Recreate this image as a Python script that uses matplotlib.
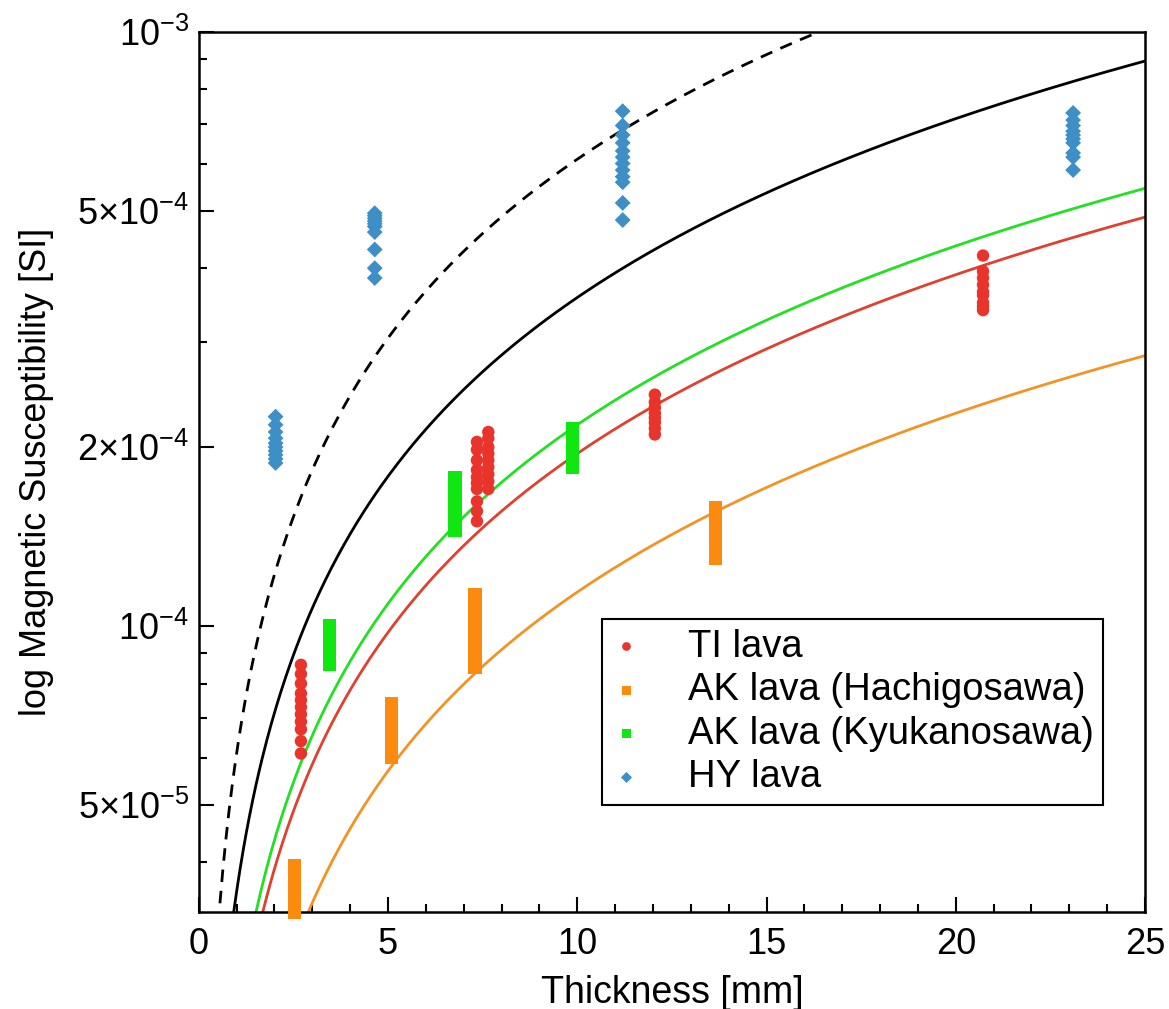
import numpy as np
import matplotlib
matplotlib.use("Agg")
import matplotlib.pyplot as plt
from matplotlib.ticker import FixedLocator, FixedFormatter

plt.rcParams['font.family'] = ['Liberation Sans', 'DejaVu Sans']
plt.rcParams['mathtext.fontset'] = 'custom'
plt.rcParams['mathtext.rm'] = 'Liberation Sans'
plt.rcParams['mathtext.it'] = 'Liberation Sans:italic'
plt.rcParams['mathtext.bf'] = 'Liberation Sans:bold'

# ---------------- data ----------------
ti_x = [2.7] * 11 + [7.35] * 10 + [7.65] * 9 + [12.05] * 8 + [20.72] * 9
ti_y = [8.6e-5, 8.3e-5, 8.0e-5, 7.7e-5, 7.5e-5, 7.3e-5, 7.1e-5, 6.9e-5, 6.7e-5, 6.4e-5, 6.1e-5,
        2.04e-4, 1.98e-4, 1.90e-4, 1.83e-4, 1.78e-4, 1.74e-4, 1.70e-4, 1.62e-4, 1.56e-4, 1.50e-4,
        2.12e-4, 2.07e-4, 2.00e-4, 1.95e-4, 1.90e-4, 1.85e-4, 1.80e-4, 1.75e-4, 1.70e-4,
        2.45e-4, 2.38e-4, 2.33e-4, 2.28e-4, 2.24e-4, 2.20e-4, 2.15e-4, 2.10e-4,
        4.20e-4, 3.95e-4, 3.85e-4, 3.75e-4, 3.65e-4, 3.60e-4, 3.50e-4, 3.45e-4, 3.40e-4]

hachi_x = [2.54] * 6 + [5.1] * 7 + [7.3] * 8 + [13.66] * 7
hachi_y = [3.95e-5, 3.8e-5, 3.65e-5, 3.5e-5, 3.4e-5, 3.3e-5,
           7.4e-5, 7.1e-5, 6.8e-5, 6.6e-5, 6.4e-5, 6.2e-5, 6.0e-5,
           1.13e-4, 1.08e-4, 1.04e-4, 1.00e-4, 0.96e-4, 0.92e-4, 0.88e-4, 0.85e-4,
           1.58e-4, 1.52e-4, 1.47e-4, 1.42e-4, 1.38e-4, 1.34e-4, 1.30e-4]

kyu_x = [3.46] * 6 + [6.77] * 7 + [9.88] * 7
kyu_y = [1.0e-4, 0.97e-4, 0.94e-4, 0.91e-4, 0.88e-4, 0.86e-4,
         1.78e-4, 1.72e-4, 1.66e-4, 1.60e-4, 1.55e-4, 1.50e-4, 1.45e-4,
         2.15e-4, 2.10e-4, 2.05e-4, 2.00e-4, 1.95e-4, 1.90e-4, 1.85e-4]

hy_x = [2.03] * 10 + [4.65] * 10 + [11.2] * 12 + [23.1] * 10
hy_y = [2.25e-4, 2.18e-4, 2.12e-4, 2.07e-4, 2.03e-4, 2.00e-4, 1.97e-4, 1.94e-4, 1.91e-4, 1.88e-4,
        4.95e-4, 4.90e-4, 4.85e-4, 4.80e-4, 4.75e-4, 4.70e-4, 4.60e-4, 4.30e-4, 4.00e-4, 3.85e-4,
        7.35e-4, 6.95e-4, 6.70e-4, 6.50e-4, 6.30e-4, 6.15e-4, 6.00e-4, 5.85e-4, 5.70e-4, 5.58e-4, 5.15e-4, 4.82e-4,
        7.30e-4, 7.10e-4, 6.95e-4, 6.80e-4, 6.70e-4, 6.60e-4, 6.50e-4, 6.25e-4, 6.15e-4, 5.85e-4]

# model lines y = k * thickness
fit_names = ['upper', 'mean', 'kyukanosawa', 'ti', 'hachigosawa']
fit_slopes = [6.1e-5, 3.57e-5, 2.18e-5, 1.95e-5, 1.14e-5]

labels = ['TI lava', 'AK lava (Hachigosawa)', 'AK lava (Kyukanosawa)', 'HY lava']
xtick_vals = [0, 5, 10, 15, 20, 25]
ytick_vals = [5e-5, 1e-4, 2e-4, 5e-4, 1e-3]
ytick_labels = [r'$5{\times}10^{-5}$', r'$10^{-4}$', r'$2{\times}10^{-4}$',
                r'$5{\times}10^{-4}$', r'$10^{-3}$']

# ---------------- styles ----------------
c_red = '#e8342b'
c_orange = '#fb8b0f'
c_green = '#10e610'
c_blue = '#3d8fc6'
line_styles = {
    'upper': dict(color='black', ls=(0, (4.5, 3.2)), lw=2.0),
    'mean': dict(color='black', ls='-', lw=2.0),
    'kyukanosawa': dict(color='#22e022', ls='-', lw=2.0),
    'ti': dict(color='#e0402f', ls='-', lw=2.0),
    'hachigosawa': dict(color='#f29424', ls='-', lw=2.0),
}

fig = plt.figure(figsize=(11.69, 10.09), dpi=100)
ax = fig.add_axes([0.170, 0.0961, 0.8095, 0.8725])

xs = np.linspace(0.05, 25, 600)
for name, k in zip(fit_names, fit_slopes):
    ax.plot(xs, k * xs, zorder=2, **line_styles[name])

ax.scatter(ti_x, ti_y, s=80, marker='o', color=c_red, edgecolors='none', zorder=3, label=labels[0])
ax.scatter(hachi_x, hachi_y, s=90, marker='s', color=c_orange, edgecolors='none', zorder=3,
           label=labels[1], clip_on=False)
ax.scatter(kyu_x, kyu_y, s=90, marker='s', color=c_green, edgecolors='none', zorder=3, label=labels[2])
ax.scatter(hy_x, hy_y, s=65, marker='D', color=c_blue, edgecolors='none', zorder=3, label=labels[3])

ax.set_yscale('log')
ax.set_xlim(0, 25)
ax.set_ylim(3.3e-5, 1e-3)

ax.xaxis.set_major_locator(FixedLocator(xtick_vals))
ax.xaxis.set_major_formatter(FixedFormatter([str(v) for v in xtick_vals]))
ax.xaxis.set_minor_locator(FixedLocator(np.arange(0, 26, 1)))

minor_y = [m * 10.0 ** e for e in (-5, -4) for m in range(1, 10)]
minor_y = [v for v in minor_y if 3.3e-5 <= v <= 1e-3 and not any(abs(v - t) / t < 1e-6 for t in ytick_vals)]
ax.yaxis.set_major_locator(FixedLocator(ytick_vals))
ax.yaxis.set_major_formatter(FixedFormatter(ytick_labels))
ax.yaxis.set_minor_locator(FixedLocator(minor_y))
ax.yaxis.set_minor_formatter(FixedFormatter([''] * len(minor_y)))

ax.tick_params(which='major', direction='in', length=11, width=1.5, labelsize=26, top=False, right=False)
ax.tick_params(which='minor', direction='in', length=5.5, width=1.5, top=False, right=False)
ax.tick_params(axis='x', which='major', pad=11)
ax.tick_params(axis='y', which='major', pad=7)
for sp in ax.spines.values():
    sp.set_linewidth(1.8)

ax.set_xlabel('Thickness [mm]', fontsize=27, labelpad=9)
ax.set_ylabel('log Magnetic Susceptibility [SI]', fontsize=26, labelpad=17)

leg = ax.legend(loc='lower right', bbox_to_anchor=(0.9556, 0.1216), borderaxespad=0, fontsize=27.5,
                frameon=True, fancybox=False, edgecolor='black', framealpha=1, handletextpad=1.2,
                labelspacing=0.2, borderpad=0.25, handlelength=0.8, markerscale=0.7)
leg.get_frame().set_linewidth(1.5)

fig.savefig('out.png', dpi=100)
